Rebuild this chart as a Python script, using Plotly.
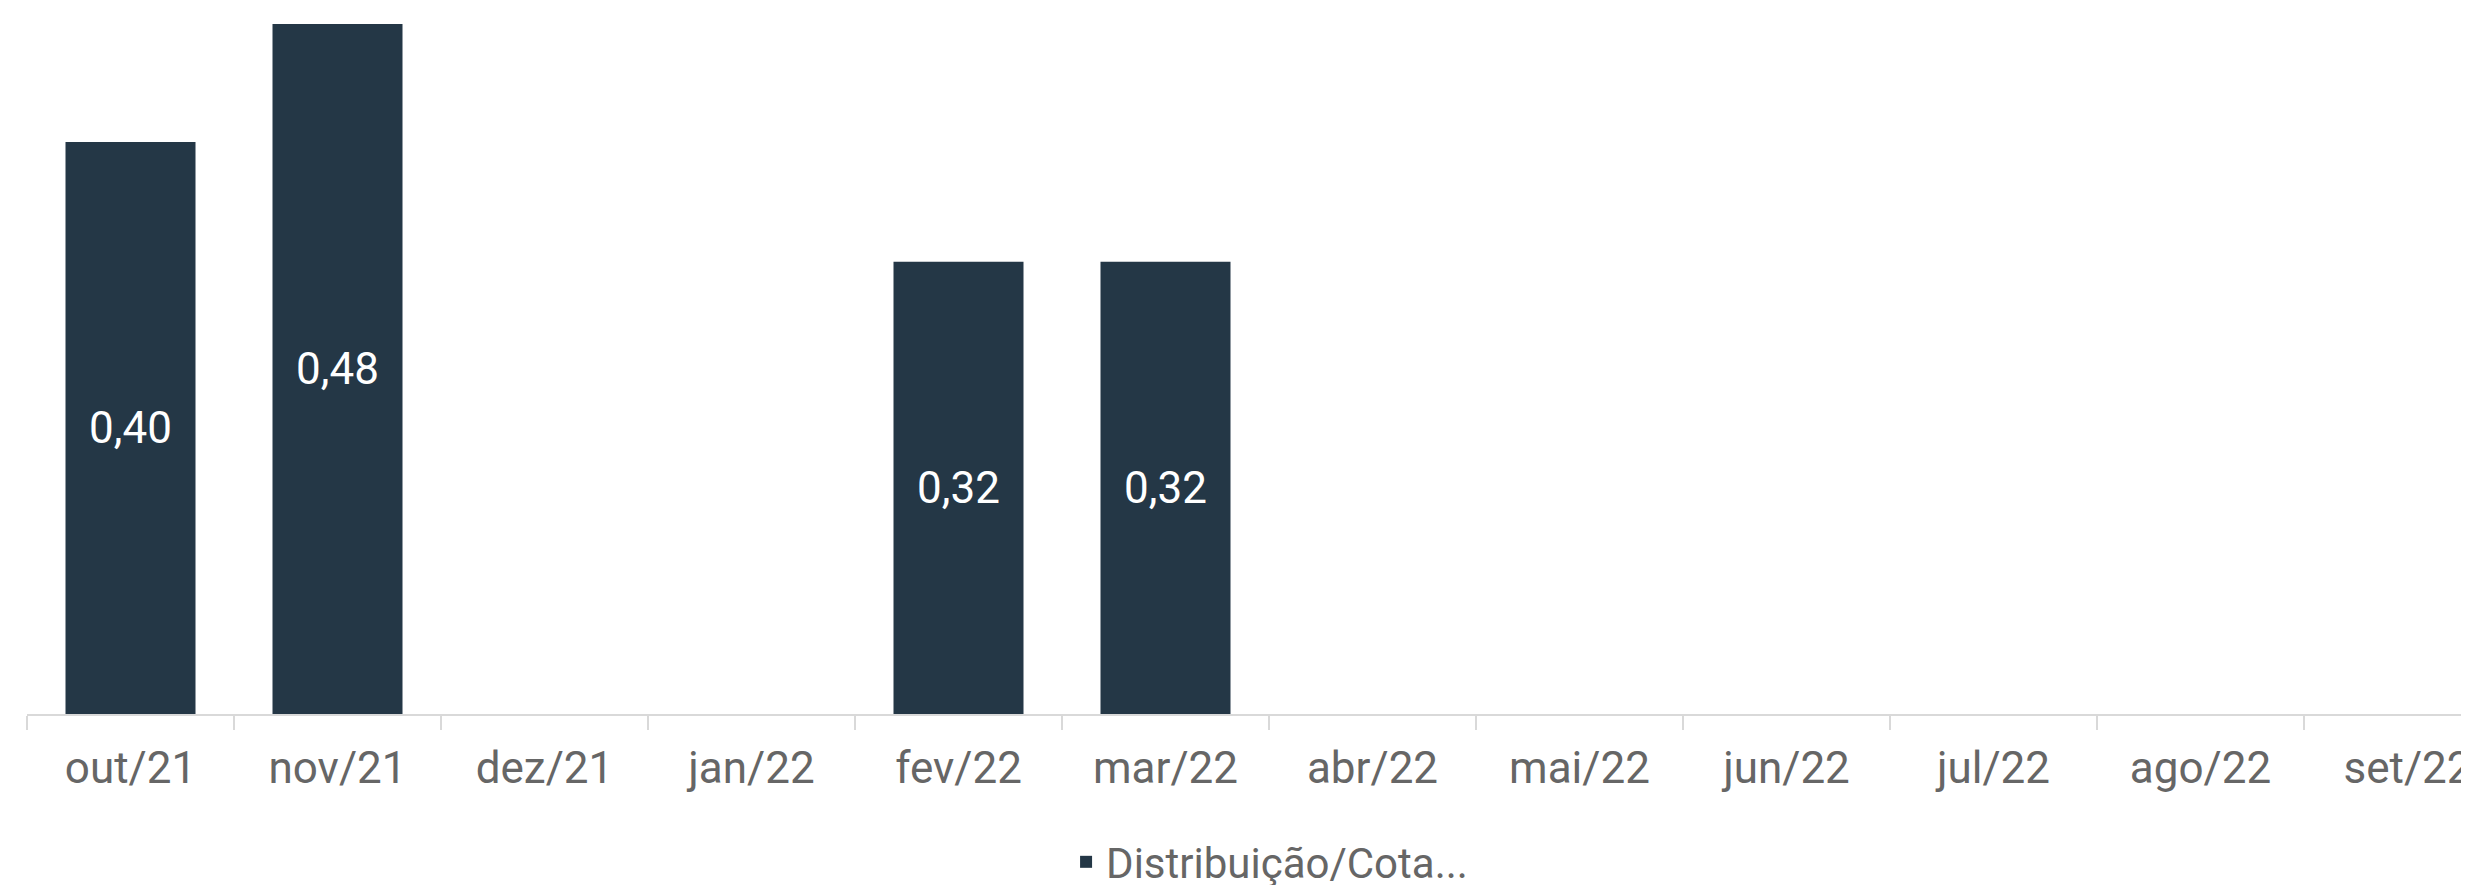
import plotly.graph_objects as go

categories = ["out/21", "nov/21", "dez/21", "jan/22", "fev/22", "mar/22",
              "abr/22", "mai/22", "jun/22", "jul/22", "ago/22", "set/22"]
values = [0.40, 0.4825, None, None, 0.3163, 0.3163, None, None, None, None, None, None]
series_name = "Distribuição/Cota..."

bar_color = "#243746"
axis_color = "#d9d9d9"
label_color = "#666666"
font_family = "Roboto"

fig = go.Figure()
fig.add_trace(go.Bar(
    x=categories,
    y=values,
    name=series_name,
    marker=dict(color=bar_color, line=dict(width=0)),
    texttemplate="%{y:.2f}",
    textposition="inside",
    insidetextanchor="middle",
    textangle=0,
    textfont=dict(family=font_family, size=44, color="white", weight=400),
    showlegend=True,
))

fig.update_layout(
    width=2461,
    height=877,
    margin=dict(l=19, r=0, t=0, b=171, pad=0, autoexpand=False),
    paper_bgcolor="white",
    plot_bgcolor="white",
    separators=",.",
    bargap=0.372,
    font=dict(family=font_family, color=label_color),
    xaxis=dict(
        type="category",
        categoryorder="array",
        categoryarray=categories,
        range=[-0.5, -0.5 + 2442 / 207],
        tickson="boundaries",
        ticks="outside",
        ticklen=14,
        tickwidth=2,
        tickcolor=axis_color,
        showline=True,
        linecolor=axis_color,
        linewidth=2,
        showgrid=False,
        automargin=False,
        ticklabelstandoff=14,
        tickfont=dict(family=font_family, size=44, color=label_color, weight=400),
    ),
    yaxis=dict(
        range=[0, 0.4937],
        showticklabels=False,
        showgrid=False,
        zeroline=False,
        showline=False,
        ticks="",
        automargin=False,
    ),
    legend=dict(
        orientation="h",
        x=0.4255,
        xanchor="left",
        yref="container",
        y=0.0262,
        yanchor="middle",
        font=dict(family=font_family, size=42, color=label_color, weight=400),
        bgcolor="rgba(0,0,0,0)",
    ),
)

fig.write_html("out.html")
